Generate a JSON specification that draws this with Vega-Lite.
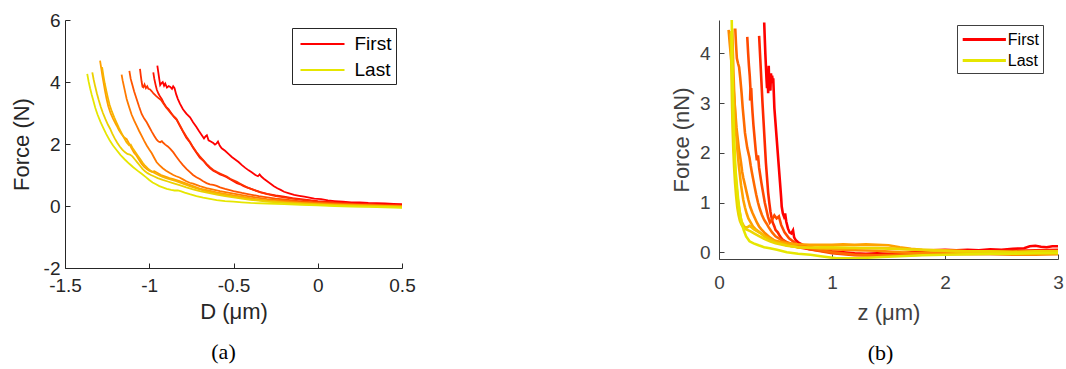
{
"$schema": "https://vega.github.io/schema/vega-lite/v6.json",
"background": "white",
"padding": {"left": 10, "top": 11, "right": 4, "bottom": 4},
"config": {"view": {"stroke": null}, "font": "Liberation Sans"},
"bounds": "flush",
"spacing": 317,
"resolve": {"scale": {"color": "independent"}, "legend": {"color": "independent"}},
"datasets": {
"left": [
{"s":"First","x":-0.952,"y":4.53},{"s":"First","x":-0.946,"y":4.3},{"s":"First","x":-0.94,"y":4.08},{"s":"First","x":-0.935,"y":3.9},{"s":"First","x":-0.928,"y":3.96},{"s":"First","x":-0.92,"y":4.0},{"s":"First","x":-0.912,"y":3.88},{"s":"First","x":-0.905,"y":3.95},{"s":"First","x":-0.895,"y":3.82},{"s":"First","x":-0.885,"y":3.87},{"s":"First","x":-0.875,"y":3.84},{"s":"First","x":-0.865,"y":3.78},{"s":"First","x":-0.858,"y":3.86},{"s":"First","x":-0.85,"y":3.8},{"s":"First","x":-0.84,"y":3.6},{"s":"First","x":-0.83,"y":3.45},{"s":"First","x":-0.818,"y":3.3},{"s":"First","x":-0.8,"y":3.12},{"s":"First","x":-0.78,"y":2.98},{"s":"First","x":-0.758,"y":2.86},{"s":"First","x":-0.74,"y":2.7},{"s":"First","x":-0.72,"y":2.55},{"s":"First","x":-0.705,"y":2.42},{"s":"First","x":-0.69,"y":2.3},{"s":"First","x":-0.675,"y":2.18},{"s":"First","x":-0.665,"y":2.25},{"s":"First","x":-0.658,"y":2.28},{"s":"First","x":-0.648,"y":2.12},{"s":"First","x":-0.635,"y":2.08},{"s":"First","x":-0.62,"y":2.03},{"s":"First","x":-0.61,"y":1.98},{"s":"First","x":-0.6,"y":2.02},{"s":"First","x":-0.592,"y":2.08},{"s":"First","x":-0.582,"y":1.95},{"s":"First","x":-0.57,"y":1.86},{"s":"First","x":-0.55,"y":1.78},{"s":"First","x":-0.53,"y":1.68},{"s":"First","x":-0.51,"y":1.58},{"s":"First","x":-0.49,"y":1.5},{"s":"First","x":-0.47,"y":1.42},{"s":"First","x":-0.45,"y":1.32},{"s":"First","x":-0.43,"y":1.23},{"s":"First","x":-0.41,"y":1.15},{"s":"First","x":-0.39,"y":1.08},{"s":"First","x":-0.37,"y":1.0},{"s":"First","x":-0.355,"y":0.96},{"s":"First","x":-0.345,"y":1.02},{"s":"First","x":-0.335,"y":0.95},{"s":"First","x":-0.32,"y":0.88},{"s":"First","x":-0.3,"y":0.8},{"s":"First","x":-0.28,"y":0.72},{"s":"First","x":-0.26,"y":0.64},{"s":"First","x":-0.24,"y":0.57},{"s":"First","x":-0.22,"y":0.52},{"s":"First","x":-0.2,"y":0.46},{"s":"First","x":-0.17,"y":0.41},{"s":"First","x":-0.14,"y":0.36},{"s":"First","x":-0.11,"y":0.33},{"s":"First","x":-0.08,"y":0.3},{"s":"First","x":-0.05,"y":0.27},{"s":"First","x":-0.02,"y":0.24},{"s":"First","x":0.02,"y":0.22},{"s":"First","x":0.06,"y":0.18},{"s":"First","x":0.1,"y":0.16},{"s":"First","x":0.15,"y":0.14},{"s":"First","x":0.2,"y":0.12},{"s":"First","x":0.25,"y":0.12},{"s":"First","x":0.3,"y":0.1},{"s":"First","x":0.35,"y":0.09},{"s":"First","x":0.4,"y":0.08},{"s":"First","x":0.45,"y":0.07},{"s":"First","x":0.5,"y":0.06},
{"s":"L2","x":-0.976,"y":4.31},{"s":"L2","x":-0.97,"y":4.1},{"s":"L2","x":-0.962,"y":3.9},{"s":"L2","x":-0.955,"y":3.75},{"s":"L2","x":-0.945,"y":3.62},{"s":"L2","x":-0.935,"y":3.52},{"s":"L2","x":-0.926,"y":3.45},{"s":"L2","x":-0.915,"y":3.33},{"s":"L2","x":-0.9,"y":3.2},{"s":"L2","x":-0.885,"y":3.12},{"s":"L2","x":-0.87,"y":3.0},{"s":"L2","x":-0.855,"y":2.88},{"s":"L2","x":-0.837,"y":2.78},{"s":"L2","x":-0.82,"y":2.6},{"s":"L2","x":-0.8,"y":2.4},{"s":"L2","x":-0.78,"y":2.2},{"s":"L2","x":-0.758,"y":2.05},{"s":"L2","x":-0.74,"y":1.88},{"s":"L2","x":-0.72,"y":1.72},{"s":"L2","x":-0.7,"y":1.56},{"s":"L2","x":-0.679,"y":1.46},{"s":"L2","x":-0.66,"y":1.33},{"s":"L2","x":-0.64,"y":1.22},{"s":"L2","x":-0.62,"y":1.14},{"s":"L2","x":-0.6,"y":1.08},{"s":"L2","x":-0.58,"y":1.02},{"s":"L2","x":-0.56,"y":0.98},{"s":"L2","x":-0.54,"y":0.93},{"s":"L2","x":-0.52,"y":0.86},{"s":"L2","x":-0.5,"y":0.8},{"s":"L2","x":-0.48,"y":0.74},{"s":"L2","x":-0.46,"y":0.7},{"s":"L2","x":-0.44,"y":0.64},{"s":"L2","x":-0.42,"y":0.6},{"s":"L2","x":-0.38,"y":0.52},{"s":"L2","x":-0.34,"y":0.45},{"s":"L2","x":-0.3,"y":0.39},{"s":"L2","x":-0.25,"y":0.34},{"s":"L2","x":-0.2,"y":0.3},{"s":"L2","x":-0.15,"y":0.25},{"s":"L2","x":-0.1,"y":0.22},{"s":"L2","x":-0.05,"y":0.19},{"s":"L2","x":0.0,"y":0.16},{"s":"L2","x":0.1,"y":0.12},{"s":"L2","x":0.2,"y":0.08},{"s":"L2","x":0.3,"y":0.06},{"s":"L2","x":0.4,"y":0.04},{"s":"L2","x":0.5,"y":0.02},
{"s":"L3","x":-1.055,"y":4.42},{"s":"L3","x":-1.05,"y":4.2},{"s":"L3","x":-1.045,"y":4.0},{"s":"L3","x":-1.04,"y":3.85},{"s":"L3","x":-1.035,"y":3.83},{"s":"L3","x":-1.028,"y":3.92},{"s":"L3","x":-1.02,"y":3.8},{"s":"L3","x":-1.012,"y":3.86},{"s":"L3","x":-1.005,"y":3.78},{"s":"L3","x":-0.995,"y":3.76},{"s":"L3","x":-0.985,"y":3.7},{"s":"L3","x":-0.975,"y":3.63},{"s":"L3","x":-0.96,"y":3.55},{"s":"L3","x":-0.945,"y":3.48},{"s":"L3","x":-0.93,"y":3.42},{"s":"L3","x":-0.915,"y":3.3},{"s":"L3","x":-0.9,"y":3.18},{"s":"L3","x":-0.885,"y":3.08},{"s":"L3","x":-0.87,"y":2.98},{"s":"L3","x":-0.855,"y":2.9},{"s":"L3","x":-0.84,"y":2.82},{"s":"L3","x":-0.82,"y":2.62},{"s":"L3","x":-0.8,"y":2.42},{"s":"L3","x":-0.78,"y":2.24},{"s":"L3","x":-0.76,"y":2.08},{"s":"L3","x":-0.74,"y":1.9},{"s":"L3","x":-0.72,"y":1.74},{"s":"L3","x":-0.7,"y":1.6},{"s":"L3","x":-0.68,"y":1.48},{"s":"L3","x":-0.66,"y":1.36},{"s":"L3","x":-0.64,"y":1.25},{"s":"L3","x":-0.62,"y":1.16},{"s":"L3","x":-0.6,"y":1.1},{"s":"L3","x":-0.58,"y":1.05},{"s":"L3","x":-0.56,"y":1.0},{"s":"L3","x":-0.54,"y":0.95},{"s":"L3","x":-0.52,"y":0.88},{"s":"L3","x":-0.5,"y":0.83},{"s":"L3","x":-0.48,"y":0.78},{"s":"L3","x":-0.46,"y":0.72},{"s":"L3","x":-0.44,"y":0.66},{"s":"L3","x":-0.42,"y":0.6},{"s":"L3","x":-0.38,"y":0.52},{"s":"L3","x":-0.34,"y":0.44},{"s":"L3","x":-0.3,"y":0.38},{"s":"L3","x":-0.25,"y":0.32},{"s":"L3","x":-0.2,"y":0.28},{"s":"L3","x":-0.15,"y":0.24},{"s":"L3","x":-0.1,"y":0.2},{"s":"L3","x":-0.05,"y":0.17},{"s":"L3","x":0.0,"y":0.14},{"s":"L3","x":0.1,"y":0.1},{"s":"L3","x":0.2,"y":0.07},{"s":"L3","x":0.3,"y":0.05},{"s":"L3","x":0.4,"y":0.03},{"s":"L3","x":0.5,"y":0.01},
{"s":"L4","x":-1.118,"y":4.36},{"s":"L4","x":-1.11,"y":4.1},{"s":"L4","x":-1.1,"y":3.9},{"s":"L4","x":-1.09,"y":3.7},{"s":"L4","x":-1.075,"y":3.45},{"s":"L4","x":-1.06,"y":3.2},{"s":"L4","x":-1.045,"y":2.97},{"s":"L4","x":-1.03,"y":2.82},{"s":"L4","x":-1.015,"y":2.7},{"s":"L4","x":-1.0,"y":2.55},{"s":"L4","x":-0.985,"y":2.4},{"s":"L4","x":-0.97,"y":2.26},{"s":"L4","x":-0.956,"y":2.14},{"s":"L4","x":-0.945,"y":2.08},{"s":"L4","x":-0.935,"y":2.06},{"s":"L4","x":-0.925,"y":2.09},{"s":"L4","x":-0.917,"y":2.04},{"s":"L4","x":-0.905,"y":1.98},{"s":"L4","x":-0.89,"y":1.92},{"s":"L4","x":-0.875,"y":1.84},{"s":"L4","x":-0.857,"y":1.73},{"s":"L4","x":-0.84,"y":1.6},{"s":"L4","x":-0.82,"y":1.45},{"s":"L4","x":-0.8,"y":1.32},{"s":"L4","x":-0.778,"y":1.19},{"s":"L4","x":-0.76,"y":1.1},{"s":"L4","x":-0.74,"y":1.0},{"s":"L4","x":-0.72,"y":0.93},{"s":"L4","x":-0.7,"y":0.87},{"s":"L4","x":-0.68,"y":0.8},{"s":"L4","x":-0.66,"y":0.74},{"s":"L4","x":-0.64,"y":0.7},{"s":"L4","x":-0.62,"y":0.68},{"s":"L4","x":-0.6,"y":0.65},{"s":"L4","x":-0.58,"y":0.6},{"s":"L4","x":-0.55,"y":0.55},{"s":"L4","x":-0.5,"y":0.48},{"s":"L4","x":-0.45,"y":0.42},{"s":"L4","x":-0.4,"y":0.37},{"s":"L4","x":-0.35,"y":0.32},{"s":"L4","x":-0.3,"y":0.28},{"s":"L4","x":-0.25,"y":0.24},{"s":"L4","x":-0.2,"y":0.21},{"s":"L4","x":-0.15,"y":0.18},{"s":"L4","x":-0.1,"y":0.15},{"s":"L4","x":0.0,"y":0.11},{"s":"L4","x":0.1,"y":0.08},{"s":"L4","x":0.2,"y":0.05},{"s":"L4","x":0.3,"y":0.03},{"s":"L4","x":0.4,"y":0.02},{"s":"L4","x":0.5,"y":0.0},
{"s":"L5","x":-1.164,"y":4.24},{"s":"L5","x":-1.158,"y":4.05},{"s":"L5","x":-1.15,"y":3.85},{"s":"L5","x":-1.142,"y":3.65},{"s":"L5","x":-1.134,"y":3.45},{"s":"L5","x":-1.12,"y":3.2},{"s":"L5","x":-1.105,"y":2.95},{"s":"L5","x":-1.09,"y":2.76},{"s":"L5","x":-1.075,"y":2.59},{"s":"L5","x":-1.06,"y":2.42},{"s":"L5","x":-1.045,"y":2.26},{"s":"L5","x":-1.03,"y":2.1},{"s":"L5","x":-1.015,"y":1.95},{"s":"L5","x":-1.0,"y":1.82},{"s":"L5","x":-0.985,"y":1.7},{"s":"L5","x":-0.97,"y":1.55},{"s":"L5","x":-0.956,"y":1.41},{"s":"L5","x":-0.94,"y":1.32},{"s":"L5","x":-0.92,"y":1.22},{"s":"L5","x":-0.9,"y":1.14},{"s":"L5","x":-0.88,"y":1.07},{"s":"L5","x":-0.857,"y":1.0},{"s":"L5","x":-0.84,"y":0.96},{"s":"L5","x":-0.82,"y":0.92},{"s":"L5","x":-0.8,"y":0.86},{"s":"L5","x":-0.78,"y":0.8},{"s":"L5","x":-0.76,"y":0.75},{"s":"L5","x":-0.74,"y":0.72},{"s":"L5","x":-0.72,"y":0.68},{"s":"L5","x":-0.7,"y":0.64},{"s":"L5","x":-0.66,"y":0.58},{"s":"L5","x":-0.62,"y":0.53},{"s":"L5","x":-0.58,"y":0.48},{"s":"L5","x":-0.54,"y":0.44},{"s":"L5","x":-0.5,"y":0.4},{"s":"L5","x":-0.45,"y":0.35},{"s":"L5","x":-0.4,"y":0.3},{"s":"L5","x":-0.35,"y":0.26},{"s":"L5","x":-0.3,"y":0.22},{"s":"L5","x":-0.2,"y":0.17},{"s":"L5","x":-0.1,"y":0.12},{"s":"L5","x":0.0,"y":0.09},{"s":"L5","x":0.1,"y":0.06},{"s":"L5","x":0.2,"y":0.04},{"s":"L5","x":0.3,"y":0.02},{"s":"L5","x":0.4,"y":0.0},{"s":"L5","x":0.5,"y":-0.02},
{"s":"L6","x":-1.292,"y":4.69},{"s":"L6","x":-1.285,"y":4.45},{"s":"L6","x":-1.278,"y":4.2},{"s":"L6","x":-1.27,"y":3.95},{"s":"L6","x":-1.262,"y":3.7},{"s":"L6","x":-1.253,"y":3.45},{"s":"L6","x":-1.243,"y":3.22},{"s":"L6","x":-1.23,"y":3.0},{"s":"L6","x":-1.215,"y":2.82},{"s":"L6","x":-1.2,"y":2.66},{"s":"L6","x":-1.193,"y":2.59},{"s":"L6","x":-1.18,"y":2.45},{"s":"L6","x":-1.165,"y":2.32},{"s":"L6","x":-1.15,"y":2.22},{"s":"L6","x":-1.134,"y":2.16},{"s":"L6","x":-1.12,"y":2.02},{"s":"L6","x":-1.105,"y":1.86},{"s":"L6","x":-1.09,"y":1.72},{"s":"L6","x":-1.075,"y":1.62},{"s":"L6","x":-1.06,"y":1.48},{"s":"L6","x":-1.045,"y":1.36},{"s":"L6","x":-1.03,"y":1.26},{"s":"L6","x":-1.015,"y":1.19},{"s":"L6","x":-1.0,"y":1.14},{"s":"L6","x":-0.985,"y":1.1},{"s":"L6","x":-0.97,"y":1.12},{"s":"L6","x":-0.956,"y":1.08},{"s":"L6","x":-0.93,"y":1.0},{"s":"L6","x":-0.9,"y":0.94},{"s":"L6","x":-0.88,"y":0.9},{"s":"L6","x":-0.857,"y":0.87},{"s":"L6","x":-0.82,"y":0.8},{"s":"L6","x":-0.78,"y":0.72},{"s":"L6","x":-0.74,"y":0.64},{"s":"L6","x":-0.7,"y":0.56},{"s":"L6","x":-0.65,"y":0.5},{"s":"L6","x":-0.6,"y":0.44},{"s":"L6","x":-0.55,"y":0.39},{"s":"L6","x":-0.5,"y":0.34},{"s":"L6","x":-0.45,"y":0.3},{"s":"L6","x":-0.4,"y":0.25},{"s":"L6","x":-0.35,"y":0.21},{"s":"L6","x":-0.3,"y":0.18},{"s":"L6","x":-0.2,"y":0.13},{"s":"L6","x":-0.1,"y":0.09},{"s":"L6","x":0.0,"y":0.06},{"s":"L6","x":0.1,"y":0.04},{"s":"L6","x":0.2,"y":0.03},{"s":"L6","x":0.3,"y":0.02},{"s":"L6","x":0.4,"y":0.0},{"s":"L6","x":0.5,"y":-0.01},
{"s":"L7","x":-1.28,"y":4.48},{"s":"L7","x":-1.272,"y":4.2},{"s":"L7","x":-1.264,"y":3.95},{"s":"L7","x":-1.255,"y":3.72},{"s":"L7","x":-1.245,"y":3.48},{"s":"L7","x":-1.235,"y":3.26},{"s":"L7","x":-1.222,"y":3.05},{"s":"L7","x":-1.208,"y":2.86},{"s":"L7","x":-1.195,"y":2.7},{"s":"L7","x":-1.18,"y":2.52},{"s":"L7","x":-1.165,"y":2.36},{"s":"L7","x":-1.15,"y":2.2},{"s":"L7","x":-1.135,"y":2.06},{"s":"L7","x":-1.12,"y":1.96},{"s":"L7","x":-1.11,"y":1.98},{"s":"L7","x":-1.1,"y":1.88},{"s":"L7","x":-1.085,"y":1.76},{"s":"L7","x":-1.07,"y":1.64},{"s":"L7","x":-1.055,"y":1.52},{"s":"L7","x":-1.04,"y":1.4},{"s":"L7","x":-1.025,"y":1.3},{"s":"L7","x":-1.01,"y":1.22},{"s":"L7","x":-0.995,"y":1.15},{"s":"L7","x":-0.98,"y":1.1},{"s":"L7","x":-0.96,"y":1.04},{"s":"L7","x":-0.94,"y":0.99},{"s":"L7","x":-0.92,"y":0.94},{"s":"L7","x":-0.9,"y":0.9},{"s":"L7","x":-0.87,"y":0.85},{"s":"L7","x":-0.84,"y":0.8},{"s":"L7","x":-0.8,"y":0.72},{"s":"L7","x":-0.76,"y":0.64},{"s":"L7","x":-0.72,"y":0.57},{"s":"L7","x":-0.68,"y":0.5},{"s":"L7","x":-0.64,"y":0.45},{"s":"L7","x":-0.6,"y":0.4},{"s":"L7","x":-0.55,"y":0.35},{"s":"L7","x":-0.5,"y":0.3},{"s":"L7","x":-0.45,"y":0.26},{"s":"L7","x":-0.4,"y":0.22},{"s":"L7","x":-0.3,"y":0.16},{"s":"L7","x":-0.2,"y":0.11},{"s":"L7","x":-0.1,"y":0.08},{"s":"L7","x":0.0,"y":0.05},{"s":"L7","x":0.1,"y":0.03},{"s":"L7","x":0.2,"y":0.02},{"s":"L7","x":0.3,"y":0.0},{"s":"L7","x":0.4,"y":-0.01},{"s":"L7","x":0.5,"y":-0.03},
{"s":"L8","x":-1.338,"y":4.31},{"s":"L8","x":-1.33,"y":4.08},{"s":"L8","x":-1.321,"y":3.86},{"s":"L8","x":-1.311,"y":3.64},{"s":"L8","x":-1.3,"y":3.42},{"s":"L8","x":-1.288,"y":3.2},{"s":"L8","x":-1.275,"y":3.0},{"s":"L8","x":-1.26,"y":2.8},{"s":"L8","x":-1.245,"y":2.62},{"s":"L8","x":-1.233,"y":2.5},{"s":"L8","x":-1.22,"y":2.34},{"s":"L8","x":-1.205,"y":2.18},{"s":"L8","x":-1.19,"y":2.04},{"s":"L8","x":-1.175,"y":1.92},{"s":"L8","x":-1.16,"y":1.82},{"s":"L8","x":-1.145,"y":1.74},{"s":"L8","x":-1.13,"y":1.68},{"s":"L8","x":-1.115,"y":1.66},{"s":"L8","x":-1.1,"y":1.6},{"s":"L8","x":-1.085,"y":1.5},{"s":"L8","x":-1.07,"y":1.4},{"s":"L8","x":-1.055,"y":1.3},{"s":"L8","x":-1.04,"y":1.2},{"s":"L8","x":-1.025,"y":1.12},{"s":"L8","x":-1.01,"y":1.06},{"s":"L8","x":-0.99,"y":1.0},{"s":"L8","x":-0.97,"y":0.95},{"s":"L8","x":-0.95,"y":0.9},{"s":"L8","x":-0.92,"y":0.84},{"s":"L8","x":-0.89,"y":0.79},{"s":"L8","x":-0.86,"y":0.74},{"s":"L8","x":-0.82,"y":0.67},{"s":"L8","x":-0.78,"y":0.6},{"s":"L8","x":-0.74,"y":0.54},{"s":"L8","x":-0.7,"y":0.48},{"s":"L8","x":-0.65,"y":0.42},{"s":"L8","x":-0.6,"y":0.37},{"s":"L8","x":-0.55,"y":0.32},{"s":"L8","x":-0.5,"y":0.28},{"s":"L8","x":-0.45,"y":0.24},{"s":"L8","x":-0.4,"y":0.2},{"s":"L8","x":-0.3,"y":0.14},{"s":"L8","x":-0.2,"y":0.1},{"s":"L8","x":-0.1,"y":0.06},{"s":"L8","x":0.0,"y":0.04},{"s":"L8","x":0.1,"y":0.02},{"s":"L8","x":0.2,"y":0.0},{"s":"L8","x":0.3,"y":-0.01},{"s":"L8","x":0.4,"y":-0.02},{"s":"L8","x":0.5,"y":-0.04},
{"s":"Last","x":-1.368,"y":4.26},{"s":"Last","x":-1.36,"y":4.02},{"s":"Last","x":-1.351,"y":3.8},{"s":"Last","x":-1.341,"y":3.58},{"s":"Last","x":-1.332,"y":3.4},{"s":"Last","x":-1.32,"y":3.16},{"s":"Last","x":-1.307,"y":2.95},{"s":"Last","x":-1.29,"y":2.72},{"s":"Last","x":-1.273,"y":2.52},{"s":"Last","x":-1.255,"y":2.32},{"s":"Last","x":-1.235,"y":2.12},{"s":"Last","x":-1.215,"y":1.95},{"s":"Last","x":-1.193,"y":1.8},{"s":"Last","x":-1.17,"y":1.64},{"s":"Last","x":-1.145,"y":1.5},{"s":"Last","x":-1.12,"y":1.37},{"s":"Last","x":-1.095,"y":1.25},{"s":"Last","x":-1.07,"y":1.14},{"s":"Last","x":-1.045,"y":1.04},{"s":"Last","x":-1.02,"y":0.93},{"s":"Last","x":-1.0,"y":0.84},{"s":"Last","x":-0.98,"y":0.76},{"s":"Last","x":-0.96,"y":0.7},{"s":"Last","x":-0.94,"y":0.64},{"s":"Last","x":-0.92,"y":0.6},{"s":"Last","x":-0.896,"y":0.55},{"s":"Last","x":-0.87,"y":0.52},{"s":"Last","x":-0.85,"y":0.5},{"s":"Last","x":-0.83,"y":0.5},{"s":"Last","x":-0.81,"y":0.47},{"s":"Last","x":-0.79,"y":0.43},{"s":"Last","x":-0.76,"y":0.38},{"s":"Last","x":-0.72,"y":0.32},{"s":"Last","x":-0.68,"y":0.27},{"s":"Last","x":-0.64,"y":0.23},{"s":"Last","x":-0.6,"y":0.19},{"s":"Last","x":-0.55,"y":0.16},{"s":"Last","x":-0.5,"y":0.14},{"s":"Last","x":-0.45,"y":0.12},{"s":"Last","x":-0.4,"y":0.1},{"s":"Last","x":-0.3,"y":0.08},{"s":"Last","x":-0.2,"y":0.06},{"s":"Last","x":-0.1,"y":0.04},{"s":"Last","x":0.0,"y":0.02},{"s":"Last","x":0.1,"y":0.0},{"s":"Last","x":0.2,"y":-0.02},{"s":"Last","x":0.3,"y":-0.03},{"s":"Last","x":0.4,"y":-0.04},{"s":"Last","x":0.5,"y":-0.06}
],
"right": [
{"s":"First","x":0.4,"y":4.62},{"s":"First","x":0.405,"y":4.3},{"s":"First","x":0.41,"y":4.0},{"s":"First","x":0.415,"y":3.75},{"s":"First","x":0.42,"y":3.5},{"s":"First","x":0.425,"y":3.3},{"s":"First","x":0.43,"y":3.6},{"s":"First","x":0.435,"y":3.2},{"s":"First","x":0.44,"y":3.75},{"s":"First","x":0.445,"y":3.3},{"s":"First","x":0.45,"y":3.55},{"s":"First","x":0.455,"y":3.25},{"s":"First","x":0.46,"y":3.6},{"s":"First","x":0.465,"y":3.4},{"s":"First","x":0.47,"y":3.55},{"s":"First","x":0.475,"y":3.45},{"s":"First","x":0.48,"y":3.5},{"s":"First","x":0.485,"y":3.2},{"s":"First","x":0.49,"y":2.9},{"s":"First","x":0.5,"y":2.6},{"s":"First","x":0.51,"y":2.3},{"s":"First","x":0.52,"y":2.0},{"s":"First","x":0.53,"y":1.7},{"s":"First","x":0.54,"y":1.4},{"s":"First","x":0.55,"y":1.1},{"s":"First","x":0.555,"y":0.92},{"s":"First","x":0.565,"y":0.78},{"s":"First","x":0.575,"y":0.72},{"s":"First","x":0.585,"y":0.78},{"s":"First","x":0.595,"y":0.62},{"s":"First","x":0.61,"y":0.48},{"s":"First","x":0.625,"y":0.4},{"s":"First","x":0.64,"y":0.38},{"s":"First","x":0.655,"y":0.44},{"s":"First","x":0.665,"y":0.3},{"s":"First","x":0.68,"y":0.24},{"s":"First","x":0.7,"y":0.2},{"s":"First","x":0.75,"y":0.14},{"s":"First","x":0.8,"y":0.1},{"s":"First","x":0.9,"y":0.05},{"s":"First","x":1.0,"y":0.02},{"s":"First","x":1.1,"y":0.0},{"s":"First","x":1.2,"y":-0.02},{"s":"First","x":1.3,"y":-0.03},{"s":"First","x":1.4,"y":-0.02},{"s":"First","x":1.5,"y":-0.03},{"s":"First","x":1.6,"y":-0.02},{"s":"First","x":1.7,"y":0.0},{"s":"First","x":1.8,"y":0.02},{"s":"First","x":1.9,"y":0.04},{"s":"First","x":2.0,"y":0.05},{"s":"First","x":2.1,"y":0.04},{"s":"First","x":2.2,"y":0.05},{"s":"First","x":2.3,"y":0.04},{"s":"First","x":2.4,"y":0.06},{"s":"First","x":2.5,"y":0.05},{"s":"First","x":2.6,"y":0.07},{"s":"First","x":2.7,"y":0.08},{"s":"First","x":2.75,"y":0.12},{"s":"First","x":2.8,"y":0.13},{"s":"First","x":2.85,"y":0.11},{"s":"First","x":2.9,"y":0.1},{"s":"First","x":2.95,"y":0.12},{"s":"First","x":3.0,"y":0.12},
{"s":"R2","x":0.355,"y":4.35},{"s":"R2","x":0.365,"y":3.9},{"s":"R2","x":0.375,"y":3.45},{"s":"R2","x":0.385,"y":3.0},{"s":"R2","x":0.395,"y":2.6},{"s":"R2","x":0.405,"y":2.2},{"s":"R2","x":0.415,"y":1.8},{"s":"R2","x":0.425,"y":1.5},{"s":"R2","x":0.435,"y":1.2},{"s":"R2","x":0.445,"y":1.0},{"s":"R2","x":0.455,"y":0.82},{"s":"R2","x":0.465,"y":0.7},{"s":"R2","x":0.475,"y":0.6},{"s":"R2","x":0.49,"y":0.52},{"s":"R2","x":0.5,"y":0.45},{"s":"R2","x":0.52,"y":0.4},{"s":"R2","x":0.54,"y":0.32},{"s":"R2","x":0.56,"y":0.26},{"s":"R2","x":0.6,"y":0.2},{"s":"R2","x":0.65,"y":0.14},{"s":"R2","x":0.7,"y":0.1},{"s":"R2","x":0.8,"y":0.06},{"s":"R2","x":0.9,"y":0.03},{"s":"R2","x":1.0,"y":0.0},{"s":"R2","x":1.2,"y":-0.04},{"s":"R2","x":1.4,"y":-0.06},{"s":"R2","x":1.6,"y":-0.05},{"s":"R2","x":1.8,"y":-0.03},{"s":"R2","x":2.0,"y":-0.02},{"s":"R2","x":2.2,"y":0.0},{"s":"R2","x":2.4,"y":0.02},{"s":"R2","x":2.6,"y":0.03},{"s":"R2","x":2.8,"y":0.04},{"s":"R2","x":3.0,"y":0.05},
{"s":"R3","x":0.25,"y":4.33},{"s":"R3","x":0.258,"y":4.0},{"s":"R3","x":0.265,"y":3.75},{"s":"R3","x":0.272,"y":3.55},{"s":"R3","x":0.278,"y":3.3},{"s":"R3","x":0.275,"y":3.05},{"s":"R3","x":0.285,"y":3.3},{"s":"R3","x":0.29,"y":3.05},{"s":"R3","x":0.297,"y":2.8},{"s":"R3","x":0.305,"y":2.55},{"s":"R3","x":0.315,"y":2.3},{"s":"R3","x":0.325,"y":2.05},{"s":"R3","x":0.335,"y":1.85},{"s":"R3","x":0.345,"y":1.95},{"s":"R3","x":0.355,"y":1.7},{"s":"R3","x":0.365,"y":1.55},{"s":"R3","x":0.375,"y":1.4},{"s":"R3","x":0.39,"y":1.2},{"s":"R3","x":0.405,"y":1.0},{"s":"R3","x":0.42,"y":0.85},{"s":"R3","x":0.435,"y":0.7},{"s":"R3","x":0.45,"y":0.6},{"s":"R3","x":0.47,"y":0.66},{"s":"R3","x":0.49,"y":0.74},{"s":"R3","x":0.51,"y":0.68},{"s":"R3","x":0.53,"y":0.72},{"s":"R3","x":0.55,"y":0.55},{"s":"R3","x":0.58,"y":0.4},{"s":"R3","x":0.62,"y":0.28},{"s":"R3","x":0.7,"y":0.14},{"s":"R3","x":0.8,"y":0.06},{"s":"R3","x":0.9,"y":0.02},{"s":"R3","x":1.0,"y":-0.02},{"s":"R3","x":1.2,"y":-0.06},{"s":"R3","x":1.4,"y":-0.07},{"s":"R3","x":1.6,"y":-0.06},{"s":"R3","x":1.8,"y":-0.05},{"s":"R3","x":2.0,"y":-0.04},{"s":"R3","x":2.2,"y":-0.03},{"s":"R3","x":2.4,"y":-0.02},{"s":"R3","x":2.6,"y":-0.01},{"s":"R3","x":2.8,"y":0.0},{"s":"R3","x":3.0,"y":0.01},
{"s":"R4","x":0.144,"y":4.5},{"s":"R4","x":0.15,"y":4.2},{"s":"R4","x":0.158,"y":3.9},{"s":"R4","x":0.168,"y":3.8},{"s":"R4","x":0.178,"y":3.72},{"s":"R4","x":0.188,"y":3.5},{"s":"R4","x":0.2,"y":3.2},{"s":"R4","x":0.21,"y":2.9},{"s":"R4","x":0.22,"y":2.65},{"s":"R4","x":0.23,"y":2.4},{"s":"R4","x":0.24,"y":2.25},{"s":"R4","x":0.25,"y":2.1},{"s":"R4","x":0.26,"y":2.0},{"s":"R4","x":0.27,"y":1.9},{"s":"R4","x":0.28,"y":1.75},{"s":"R4","x":0.29,"y":1.62},{"s":"R4","x":0.3,"y":1.5},{"s":"R4","x":0.315,"y":1.32},{"s":"R4","x":0.33,"y":1.15},{"s":"R4","x":0.345,"y":1.0},{"s":"R4","x":0.36,"y":0.88},{"s":"R4","x":0.38,"y":0.75},{"s":"R4","x":0.4,"y":0.65},{"s":"R4","x":0.42,"y":0.58},{"s":"R4","x":0.44,"y":0.5},{"s":"R4","x":0.47,"y":0.4},{"s":"R4","x":0.5,"y":0.32},{"s":"R4","x":0.55,"y":0.25},{"s":"R4","x":0.6,"y":0.2},{"s":"R4","x":0.7,"y":0.13},{"s":"R4","x":0.8,"y":0.08},{"s":"R4","x":0.9,"y":0.04},{"s":"R4","x":1.0,"y":0.0},{"s":"R4","x":1.2,"y":-0.05},{"s":"R4","x":1.4,"y":-0.06},{"s":"R4","x":1.6,"y":-0.05},{"s":"R4","x":1.8,"y":-0.04},{"s":"R4","x":2.0,"y":-0.03},{"s":"R4","x":2.2,"y":-0.03},{"s":"R4","x":2.4,"y":-0.02},{"s":"R4","x":2.6,"y":-0.03},{"s":"R4","x":2.8,"y":-0.02},{"s":"R4","x":3.0,"y":-0.02},
{"s":"R5","x":0.085,"y":4.47},{"s":"R5","x":0.095,"y":4.2},{"s":"R5","x":0.105,"y":3.95},{"s":"R5","x":0.115,"y":3.7},{"s":"R5","x":0.125,"y":3.4},{"s":"R5","x":0.135,"y":3.1},{"s":"R5","x":0.145,"y":2.8},{"s":"R5","x":0.155,"y":2.5},{"s":"R5","x":0.165,"y":2.3},{"s":"R5","x":0.175,"y":2.1},{"s":"R5","x":0.185,"y":1.95},{"s":"R5","x":0.195,"y":1.8},{"s":"R5","x":0.205,"y":1.62},{"s":"R5","x":0.215,"y":1.5},{"s":"R5","x":0.23,"y":1.35},{"s":"R5","x":0.245,"y":1.2},{"s":"R5","x":0.26,"y":1.05},{"s":"R5","x":0.275,"y":0.92},{"s":"R5","x":0.295,"y":0.8},{"s":"R5","x":0.315,"y":0.7},{"s":"R5","x":0.335,"y":0.6},{"s":"R5","x":0.355,"y":0.52},{"s":"R5","x":0.375,"y":0.46},{"s":"R5","x":0.4,"y":0.4},{"s":"R5","x":0.45,"y":0.3},{"s":"R5","x":0.5,"y":0.22},{"s":"R5","x":0.55,"y":0.18},{"s":"R5","x":0.6,"y":0.14},{"s":"R5","x":0.7,"y":0.1},{"s":"R5","x":0.8,"y":0.1},{"s":"R5","x":0.9,"y":0.08},{"s":"R5","x":1.0,"y":0.06},{"s":"R5","x":1.2,"y":0.04},{"s":"R5","x":1.4,"y":0.03},{"s":"R5","x":1.6,"y":0.0},{"s":"R5","x":1.8,"y":-0.02},{"s":"R5","x":2.0,"y":-0.03},{"s":"R5","x":2.2,"y":-0.04},{"s":"R5","x":2.4,"y":-0.04},{"s":"R5","x":2.6,"y":-0.05},{"s":"R5","x":2.8,"y":-0.05},{"s":"R5","x":3.0,"y":-0.04},
{"s":"R6","x":0.118,"y":4.5},{"s":"R6","x":0.122,"y":4.1},{"s":"R6","x":0.127,"y":3.7},{"s":"R6","x":0.133,"y":3.3},{"s":"R6","x":0.14,"y":2.9},{"s":"R6","x":0.148,"y":2.55},{"s":"R6","x":0.156,"y":2.25},{"s":"R6","x":0.165,"y":2.0},{"s":"R6","x":0.175,"y":1.75},{"s":"R6","x":0.185,"y":1.55},{"s":"R6","x":0.195,"y":1.35},{"s":"R6","x":0.205,"y":1.2},{"s":"R6","x":0.215,"y":1.05},{"s":"R6","x":0.23,"y":0.9},{"s":"R6","x":0.245,"y":0.78},{"s":"R6","x":0.26,"y":0.68},{"s":"R6","x":0.28,"y":0.6},{"s":"R6","x":0.3,"y":0.52},{"s":"R6","x":0.33,"y":0.45},{"s":"R6","x":0.36,"y":0.4},{"s":"R6","x":0.4,"y":0.34},{"s":"R6","x":0.45,"y":0.28},{"s":"R6","x":0.5,"y":0.23},{"s":"R6","x":0.6,"y":0.18},{"s":"R6","x":0.7,"y":0.16},{"s":"R6","x":0.8,"y":0.15},{"s":"R6","x":0.9,"y":0.15},{"s":"R6","x":1.0,"y":0.15},{"s":"R6","x":1.1,"y":0.16},{"s":"R6","x":1.2,"y":0.15},{"s":"R6","x":1.3,"y":0.16},{"s":"R6","x":1.4,"y":0.15},{"s":"R6","x":1.5,"y":0.14},{"s":"R6","x":1.6,"y":0.1},{"s":"R6","x":1.7,"y":0.07},{"s":"R6","x":1.8,"y":0.05},{"s":"R6","x":2.0,"y":0.04},{"s":"R6","x":2.2,"y":0.02},{"s":"R6","x":2.4,"y":0.01},{"s":"R6","x":2.6,"y":0.0},{"s":"R6","x":2.8,"y":0.0},{"s":"R6","x":3.0,"y":0.0},
{"s":"R7","x":0.11,"y":4.45},{"s":"R7","x":0.113,"y":4.0},{"s":"R7","x":0.117,"y":3.5},{"s":"R7","x":0.121,"y":3.0},{"s":"R7","x":0.126,"y":2.5},{"s":"R7","x":0.132,"y":2.1},{"s":"R7","x":0.14,"y":1.75},{"s":"R7","x":0.15,"y":1.45},{"s":"R7","x":0.16,"y":1.2},{"s":"R7","x":0.17,"y":1.0},{"s":"R7","x":0.18,"y":0.85},{"s":"R7","x":0.19,"y":0.72},{"s":"R7","x":0.2,"y":0.62},{"s":"R7","x":0.215,"y":0.55},{"s":"R7","x":0.23,"y":0.5},{"s":"R7","x":0.25,"y":0.5},{"s":"R7","x":0.27,"y":0.53},{"s":"R7","x":0.29,"y":0.5},{"s":"R7","x":0.31,"y":0.46},{"s":"R7","x":0.34,"y":0.42},{"s":"R7","x":0.37,"y":0.38},{"s":"R7","x":0.4,"y":0.32},{"s":"R7","x":0.45,"y":0.26},{"s":"R7","x":0.5,"y":0.2},{"s":"R7","x":0.6,"y":0.14},{"s":"R7","x":0.7,"y":0.1},{"s":"R7","x":0.8,"y":0.09},{"s":"R7","x":0.9,"y":0.08},{"s":"R7","x":1.0,"y":0.08},{"s":"R7","x":1.2,"y":0.08},{"s":"R7","x":1.4,"y":0.09},{"s":"R7","x":1.6,"y":0.07},{"s":"R7","x":1.8,"y":0.04},{"s":"R7","x":2.0,"y":0.02},{"s":"R7","x":2.2,"y":0.0},{"s":"R7","x":2.4,"y":-0.01},{"s":"R7","x":2.6,"y":-0.01},{"s":"R7","x":2.8,"y":-0.02},{"s":"R7","x":3.0,"y":-0.01},
{"s":"R8","x":0.105,"y":4.4},{"s":"R8","x":0.108,"y":3.9},{"s":"R8","x":0.112,"y":3.4},{"s":"R8","x":0.116,"y":2.9},{"s":"R8","x":0.121,"y":2.45},{"s":"R8","x":0.127,"y":2.05},{"s":"R8","x":0.134,"y":1.7},{"s":"R8","x":0.142,"y":1.4},{"s":"R8","x":0.152,"y":1.12},{"s":"R8","x":0.162,"y":0.9},{"s":"R8","x":0.173,"y":0.75},{"s":"R8","x":0.185,"y":0.63},{"s":"R8","x":0.2,"y":0.55},{"s":"R8","x":0.215,"y":0.5},{"s":"R8","x":0.23,"y":0.47},{"s":"R8","x":0.25,"y":0.45},{"s":"R8","x":0.28,"y":0.42},{"s":"R8","x":0.31,"y":0.38},{"s":"R8","x":0.35,"y":0.33},{"s":"R8","x":0.4,"y":0.27},{"s":"R8","x":0.45,"y":0.22},{"s":"R8","x":0.5,"y":0.18},{"s":"R8","x":0.6,"y":0.13},{"s":"R8","x":0.7,"y":0.1},{"s":"R8","x":0.8,"y":0.09},{"s":"R8","x":0.9,"y":0.1},{"s":"R8","x":1.0,"y":0.1},{"s":"R8","x":1.2,"y":0.09},{"s":"R8","x":1.4,"y":0.08},{"s":"R8","x":1.6,"y":0.06},{"s":"R8","x":1.8,"y":0.05},{"s":"R8","x":2.0,"y":0.03},{"s":"R8","x":2.2,"y":0.02},{"s":"R8","x":2.4,"y":0.02},{"s":"R8","x":2.6,"y":0.01},{"s":"R8","x":2.8,"y":0.02},{"s":"R8","x":3.0,"y":0.02},
{"s":"Last","x":0.112,"y":4.8},{"s":"Last","x":0.115,"y":4.3},{"s":"Last","x":0.118,"y":3.8},{"s":"Last","x":0.122,"y":3.3},{"s":"Last","x":0.127,"y":2.8},{"s":"Last","x":0.133,"y":2.35},{"s":"Last","x":0.14,"y":1.95},{"s":"Last","x":0.148,"y":1.6},{"s":"Last","x":0.159,"y":1.32},{"s":"Last","x":0.17,"y":1.05},{"s":"Last","x":0.183,"y":0.82},{"s":"Last","x":0.198,"y":0.62},{"s":"Last","x":0.218,"y":0.45},{"s":"Last","x":0.24,"y":0.32},{"s":"Last","x":0.27,"y":0.22},{"s":"Last","x":0.306,"y":0.18},{"s":"Last","x":0.35,"y":0.14},{"s":"Last","x":0.4,"y":0.1},{"s":"Last","x":0.45,"y":0.08},{"s":"Last","x":0.513,"y":0.05},{"s":"Last","x":0.6,"y":0.0},{"s":"Last","x":0.7,"y":-0.03},{"s":"Last","x":0.81,"y":-0.05},{"s":"Last","x":0.9,"y":-0.08},{"s":"Last","x":1.04,"y":-0.12},{"s":"Last","x":1.2,"y":-0.12},{"s":"Last","x":1.4,"y":-0.1},{"s":"Last","x":1.6,"y":-0.08},{"s":"Last","x":1.8,"y":-0.06},{"s":"Last","x":2.0,"y":-0.05},{"s":"Last","x":2.2,"y":-0.04},{"s":"Last","x":2.4,"y":-0.03},{"s":"Last","x":2.6,"y":-0.03},{"s":"Last","x":2.8,"y":-0.02},{"s":"Last","x":3.0,"y":-0.02}
]
},
"hconcat": [
{
"width": 337, "height": 248,
"data": {"name": "left"},
"title": {"text": "(a)", "orient": "bottom", "frame": "group", "anchor": "middle", "dx": -10, "offset": 20, "font": "Liberation Serif", "fontSize": 22, "fontWeight": "normal", "color": "black"},
"mark": {"type": "line", "strokeWidth": 1.8, "clip": true},
"encoding": {
"x": {"field": "x", "type": "quantitative", "scale": {"domain": [-1.5, 0.5], "nice": false, "zero": false},
 "axis": {"title": "D (μm)", "values": [-1.5, -1, -0.5, 0, 0.5], "format": "~g", "grid": false, "domainColor": "#262626", "tickColor": "#262626", "tickSize": -5, "labelPadding": 13, "labelFontSize": 19, "labelColor": "#262626", "labelFlush": false, "labelOverlap": false, "labelExpr": "replace(datum.label, '−', '-')", "titleFontSize": 22, "titleFontWeight": "normal", "titleColor": "#262626", "titlePadding": 6}},
"y": {"field": "y", "type": "quantitative", "scale": {"domain": [-2, 6], "nice": false, "zero": false},
 "axis": {"title": "Force (N)", "values": [-2, 0, 2, 4, 6], "format": "~g", "grid": false, "domainColor": "#262626", "tickColor": "#262626", "tickSize": -5, "labelPadding": 10, "labelFontSize": 19, "labelColor": "#262626", "labelFlush": false, "labelOverlap": false, "labelExpr": "replace(datum.label, '−', '-')", "titleFontSize": 22, "titleFontWeight": "normal", "titleColor": "#262626", "titlePadding": 10}},
"color": {"field": "s", "type": "nominal",
 "scale": {"domain": ["First", "L2", "L3", "L4", "L5", "L6", "L7", "L8", "Last"], "range": ["#ff0000", "#ff1400", "#ff3200", "#ff5500", "#ff7a00", "#ffa000", "#f7b400", "#ecd000", "#e6e600"]},
 "legend": {"orient": "none", "legendX": 227, "legendY": 8, "values": ["First", "Last"], "title": null, "strokeColor": "#262626", "fillColor": "white", "padding": 4, "symbolType": "M-2,0H2", "symbolSize": 484, "symbolStrokeWidth": 2, "symbolOffset": 14.5, "labelOffset": 20, "labelFontSize": 19, "labelColor": "black", "labelFont": "Liberation Sans", "rowPadding": 4}},
"order": {"value": null}
}
},
{
"width": 339, "height": 239,
"data": {"name": "right"},
"title": {"text": "(b)", "orient": "bottom", "frame": "group", "anchor": "middle", "dx": -8, "offset": 20, "font": "Liberation Serif", "fontSize": 22, "fontWeight": "normal", "color": "black"},
"mark": {"type": "line", "strokeWidth": 2.6, "clip": true},
"encoding": {
"x": {"field": "x", "type": "quantitative", "scale": {"domain": [0, 3], "nice": false, "zero": false},
 "axis": {"title": "z (μm)", "values": [0, 1, 2, 3], "grid": false, "domainColor": "#404040", "tickColor": "#404040", "tickSize": -5, "labelPadding": 19, "labelFontSize": 19, "labelColor": "#404040", "labelFlush": false, "labelOverlap": false, "titleFontSize": 22, "titleFontWeight": "normal", "titleColor": "#404040", "titlePadding": 10}},
"y": {"field": "y", "type": "quantitative", "scale": {"domain": [-0.135, 4.67], "nice": false, "zero": false},
 "axis": {"title": "Force (nN)", "values": [0, 1, 2, 3, 4], "grid": false, "domainColor": "#404040", "tickColor": "#404040", "tickSize": -5, "labelPadding": 14, "labelFontSize": 19, "labelColor": "#404040", "labelFlush": false, "labelOverlap": false, "titleFontSize": 22, "titleFontWeight": "normal", "titleColor": "#404040", "titlePadding": 6}},
"color": {"field": "s", "type": "nominal",
 "scale": {"domain": ["First", "R2", "R3", "R4", "R5", "R6", "R7", "R8", "Last"], "range": ["#ff0000", "#ff2800", "#ff4a00", "#ff6a00", "#ff8a00", "#ffa200", "#f5c000", "#ecd600", "#e6e600"]},
 "legend": {"orient": "none", "legendX": 238, "legendY": 5, "values": ["First", "Last"], "title": null, "strokeColor": "#404040", "fillColor": "white", "padding": 4, "symbolType": "M-2.4,0H2.4", "symbolSize": 324, "symbolStrokeWidth": 3, "symbolOffset": 12.8, "labelOffset": 13, "labelFontSize": 16, "labelColor": "black", "labelFont": "Liberation Sans", "rowPadding": 2}},
"order": {"value": null}
}
}
]
}
